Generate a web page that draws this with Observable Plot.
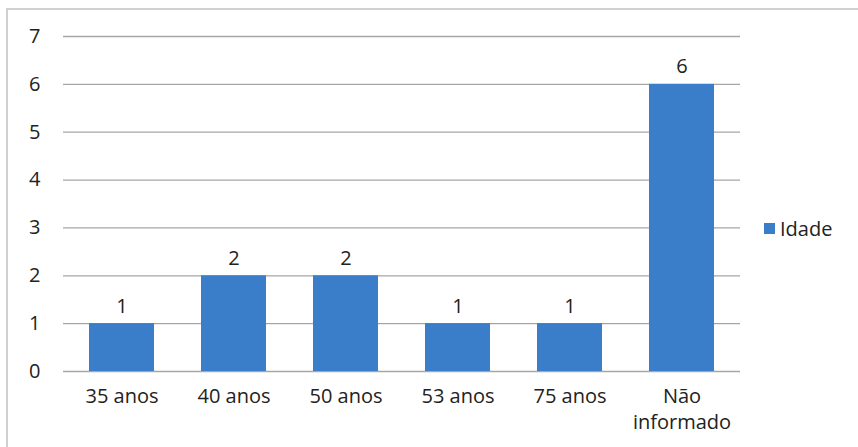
<!DOCTYPE html>
<html>
<head>
<meta charset="utf-8">
<script src="https://cdn.jsdelivr.net/npm/d3@7"></script>
<script src="https://cdn.jsdelivr.net/npm/@observablehq/plot@0.6"></script>
<style>
  html, body { margin: 0; padding: 0; background: #fff; }
  #wrap { position: relative; width: 858px; height: 447px; overflow: hidden; }
  #frame { position: absolute; left: 6px; top: 8px; width: 870px; height: 460px;
           border-top: 2px solid #d0d0d0; border-left: 2px solid #d0d0d0; box-sizing: border-box; }
  #legend { position: absolute; left: 764px; top: 215px; font-family: "Open Sans", sans-serif;
            font-size: 20px; color: #222; display: flex; align-items: center; }
  #legend span.sw { display: inline-block; width: 11px; height: 11px; background: #3a7dc8; margin-right: 5px; }
  svg { position: absolute; left: 0; top: 0; }
</style>
</head>
<body>
<div id="wrap">
  <div id="frame"></div>
  <div id="chart"></div>
  <div id="legend"><span class="sw"></span>Idade</div>
</div>
<script>
const categories = ["35 anos", "40 anos", "50 anos", "53 anos", "75 anos", "Não\ninformado"];
const values = [1, 2, 2, 1, 1, 6];
const yTicks = [0, 1, 2, 3, 4, 5, 6, 7];
const seriesName = "Idade";

const data = categories.map((c, i) => ({category: c, value: values[i]}));

const chart = Plot.plot({
  width: 858,
  height: 447,
  marginLeft: 63,
  marginRight: 118,
  marginTop: 36,
  marginBottom: 76,
  style: {fontFamily: "'Open Sans', sans-serif", fontSize: "20px", color: "#222", background: "transparent"},
  x: {domain: categories, paddingInner: 0.42, paddingOuter: 0.21, label: null},
  y: {domain: [0, 7], ticks: yTicks, label: null},
  marks: [
    Plot.gridY(yTicks, {stroke: "#a6a6a6", strokeOpacity: 1, strokeWidth: 1.3}),
    Plot.ruleX([0], {frameAnchor: "left", stroke: "#a6a6a6", strokeWidth: 1.3}),
    Plot.barY(data, {x: "category", y: "value", fill: "#3a7dc8"}),
    Plot.text(data, {x: "category", y: "value", text: d => String(d.value), dy: -11, lineAnchor: "bottom", fontSize: 20, fill: "#222"}),
    Plot.axisY(yTicks, {tickSize: 0, tickPadding: 23, fontSize: 20, fill: "#222"}),
    Plot.axisX({tickSize: 0, tickPadding: 13, fontSize: 20, fill: "#222", lineHeight: 1.3})
  ]
});
document.getElementById("chart").appendChild(chart);
</script>
</body>
</html>
